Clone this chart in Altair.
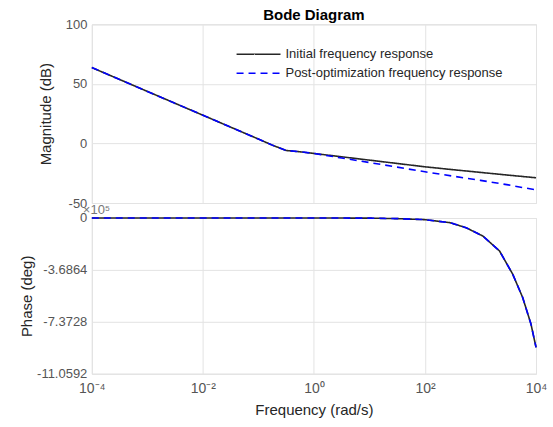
import altair as alt
import pandas as pd

# ---------------- data ----------------
series_names = ["Initial frequency response", "Post-optimization frequency response"]

mag_freq = [1e-4, 1e-3, 1e-2, 10**-1.5, 1e-1, 10**-0.75, 10**-0.5, 10**-0.25, 1,
            10**0.5, 10, 10**1.5, 100, 10**2.5, 1000, 10**3.5, 1e4]
mag_initial = [63.7, 43.7, 23.7, 13.7, 3.7, -1.4, -5.9, -7.0, -8.4,
               -11.2, -14.0, -16.8, -19.6, -22.0, -24.3, -26.6, -28.8]
mag_post = [63.7, 43.7, 23.7, 13.7, 3.7, -1.4, -5.9, -7.0, -8.4,
            -12.2, -16.0, -19.9, -23.8, -27.4, -31.0, -34.8, -39.0]

phase_freq = [1e-4, 1e-2, 1, 10, 35, 100, 280, 550, 1100, 2200, 3800, 5750, 8100, 1e4]
phase_initial = [0, 0, 0, -0.01, -0.05, -0.12, -0.33, -0.69, -1.28, -2.34, -3.99, -5.65, -7.53, -9.19]
phase_post = [0, 0, 0, -0.01, -0.05, -0.12, -0.33, -0.69, -1.28, -2.34, -3.99, -5.65, -7.53, -9.19]

x_ticks = [1e-4, 1e-2, 1, 1e2, 1e4]
x_tick_labels = ["10⁻⁴", "10⁻²", "10⁰", "10²", "10⁴"]
mag_ticks = [-50, 0, 50, 100]
phase_ticks = [0, -3.6864, -7.3728, -11.0592]
phase_scale_label = "×10⁵"

# ---------------- tables ----------------
mag_df = pd.concat([
    pd.DataFrame({"freq": mag_freq, "val": mag_initial, "series": series_names[0]}),
    pd.DataFrame({"freq": mag_freq, "val": mag_post, "series": series_names[1]}),
])
phase_df = pd.concat([
    pd.DataFrame({"freq": phase_freq, "val": phase_initial, "series": series_names[0]}),
    pd.DataFrame({"freq": phase_freq, "val": phase_post, "series": series_names[1]}),
])

FONT = "Liberation Sans"
colors = ["#262626", "#0000ff"]
dashes = [[1, 0], [7, 5]]

x_label_expr = " : ".join(
    [f"abs(datum.value - {v}) < {v}*1e-6 ? '{l}'" for v, l in zip(x_ticks, x_tick_labels)]
) + " : ''"

W = 445


def layers(df, legend, y_scale, y_axis, x_axis):
    base = alt.Chart(df)
    color_legend = alt.Legend(
        title=None, orient="none", legendX=155, legendY=18,
        symbolType="M-2,0H2", symbolSize=484, symbolStrokeWidth=1.6,
        labelFont=FONT, labelFontSize=13, labelColor="#262626", labelLimit=0,
        rowPadding=0, labelOffset=15, padding=0, symbolOpacity=1,
    ) if legend else None
    enc = dict(
        x=alt.X("freq:Q", scale=alt.Scale(type="log", domain=[1e-4, 1e4], nice=False), axis=x_axis),
        y=alt.Y("val:Q", scale=y_scale, axis=y_axis),
        color=alt.Color("series:N", scale=alt.Scale(domain=series_names, range=colors), legend=color_legend),
        strokeDash=alt.StrokeDash("series:N", scale=alt.Scale(domain=series_names, range=dashes), legend=color_legend),
    )
    l1 = base.transform_filter(alt.datum.series == series_names[0]).mark_line(strokeWidth=1.6).encode(**enc)
    l2 = base.transform_filter(alt.datum.series == series_names[1]).mark_line(strokeWidth=1.6).encode(**enc)
    return l1, l2


upper_x_axis = alt.Axis(values=x_ticks, labels=False, ticks=False, title=None, grid=True,
                        gridColor="#e3e3e3", domain=False)
upper_y_axis = alt.Axis(values=mag_ticks, labelExpr="'' + datum.value", title="Magnitude (dB)",
                        ticks=False, grid=True, gridColor="#e3e3e3", domain=False,
                        labelFont=FONT, labelFontSize=13, labelColor="#555555", labelPadding=5,
                        titleFont=FONT, titleFontSize=15, titleFontWeight="normal", titleColor="#262626",
                        titlePadding=12)
u1, u2 = layers(mag_df, True, alt.Scale(domain=[-50, 100], nice=False), upper_y_axis, upper_x_axis)
upper = alt.layer(u1, u2).properties(
    width=W, height=179,
    title=alt.TitleParams("Bode Diagram", font=FONT, fontSize=15, fontWeight="bold",
                          color="#000000", anchor="middle", offset=-5),
)

lower_x_axis = alt.Axis(values=x_ticks, labelExpr=x_label_expr, title="Frequency  (rad/s)",
                        ticks=False, grid=True, gridColor="#e3e3e3", domain=False,
                        labelFont=FONT, labelFontSize=14, labelColor="#555555", labelPadding=8,
                        labelFlush=False,
                        titleFont=FONT, titleFontSize=15, titleFontWeight="normal", titleColor="#262626",
                        titlePadding=7)
lower_y_axis = alt.Axis(values=phase_ticks, labelExpr="'' + datum.value", title="Phase (deg)",
                        ticks=False, grid=True, gridColor="#e3e3e3", domain=False,
                        labelFont=FONT, labelFontSize=13, labelColor="#555555", labelPadding=5,
                        titleFont=FONT, titleFontSize=15, titleFontWeight="normal", titleColor="#262626",
                        titlePadding=2)
p1, p2 = layers(phase_df, False, alt.Scale(domain=[-11.0592, 0], nice=False), lower_y_axis, lower_x_axis)
scale_note = alt.Chart(pd.DataFrame({"t": [phase_scale_label]})).mark_text(
    align="left", baseline="alphabetic", font=FONT, fontSize=13, color="#777777"
).encode(text="t:N", x=alt.value(-9), y=alt.value(-4))
lower = alt.layer(p1, p2, scale_note).properties(width=W, height=156)

chart = alt.vconcat(upper, lower, spacing=-8).resolve_scale(
    color="independent", strokeDash="independent", x="independent", y="independent"
).configure_view(stroke="#8c8c8c", strokeWidth=1.2).configure(
    padding={"left": 19, "top": 7, "right": 5, "bottom": 5}, background="white"
)

chart.save("out.html", embed_options={"renderer": "svg", "actions": False})
